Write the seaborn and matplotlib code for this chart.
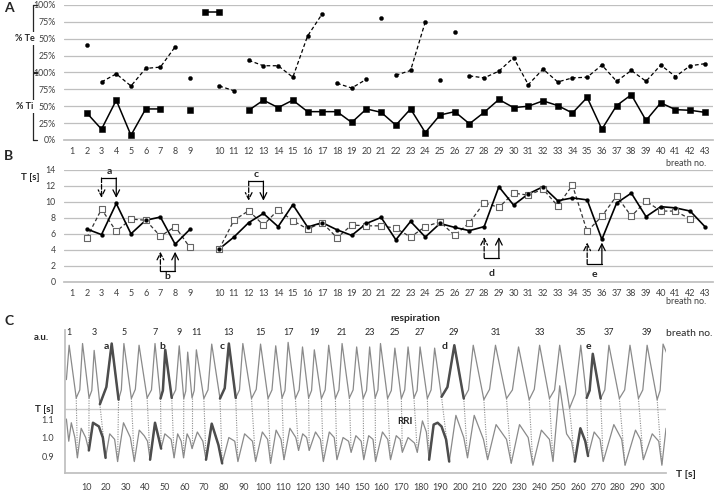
import matplotlib
matplotlib.use("Agg")
import matplotlib.pyplot as plt
import numpy as np
import pandas as pd
import seaborn as sns

# ---- categories (breath numbers, one blank slot between 9 and 10) ----
breath_no = list(range(1, 10)) + [None] + list(range(10, 44))

# ---- panel A: % Ti (squares, solid) and % Te (dots, dashed; plotted +100) ----
ti_pct = [np.nan, 40, 16, 59, 7, 46, 46, np.nan, 45, 190, 190, np.nan,
          44, 59, 48, 59, 42, 42, 42, 26, 46, 41, 22, 46, 11, 37, 42, 24,
          41, 60, 48, 50, 58, 51, 40, 63, 16, 51, 67, 29, 55, 45, 44, 41]
te_pct = [np.nan, 141, 86, 98, 80, 106, 108, 138, 92, np.nan, 80, 73,
          118, 110, 110, 93, 154, 187, 84, 77, 90, 180, 96, 103, 175, 89,
          160, 95, 92, 102, 122, 82, 105, 86, 92, 93, 111, 87, 103, 87,
          111, 94, 110, 113]
ti_breaks = [9]
te_breaks = [2, 8, 11, 17, 20, 21, 24, 25, 26]
pct_ticks = [0, 25, 50, 75, 100, 125, 150, 175, 200]
pct_labels = ["0%", "25%", "50%", "75%", "100%", "25%", "50%", "75%", "100%"]

# ---- panel B: breath duration T [s] ----
t_solid = [np.nan, 6.6, 5.9, 9.8, 6.0, 7.7, 8.1, 4.7, 6.55, np.nan, 4.1, 5.6,
           7.4, 8.55, 6.9, 9.65, 6.85, 7.4, 6.5, 5.8, 7.3, 8.05, 5.25, 7.55,
           5.6, 7.3, 6.8, 6.4, 6.9, 11.9, 9.6, 11.0, 11.9, 10.15, 10.5,
           10.25, 5.3, 9.85, 11.1, 8.15, 9.4, 9.25, 8.85, 6.9]
t_dashed = [np.nan, 5.5, 9.1, 6.3, 7.85, 7.7, 5.7, 6.9, 4.3, np.nan, 4.1, 7.7,
            8.9, 7.1, 9.0, 7.65, 6.6, 7.4, 5.5, 7.1, 7.0, 7.0, 6.7, 5.6, 6.9,
            7.5, 5.8, 7.4, 9.9, 9.3, 11.1, 10.85, 11.6, 9.5, 12.1, 6.3, 8.2,
            10.75, 8.2, 10.1, 8.85, 8.85, 7.85, np.nan]

# ---- panel C: respiration (a.u.) ----
resp_peak_t = [1.4, 8.2, 14.1, 23.0, 29.2, 36.9, 45.0, 50.2, 57.3, 61.6,
               66.0, 73.8, 82.5, 89.6, 98.6, 106.3, 112.6, 119.9, 125.9,
               133.2, 140.0, 147.4, 154.0, 159.5, 166.8, 173.5, 179.6, 187.0,
               197.0, 206.6, 217.9, 229.6, 240.3, 250.5, 261.2, 267.3, 275.5,
               286.2, 294.9, 303.0]
resp_peak_v = [0.95, 0.98, 0.86, 0.98, 0.98, 0.95, 0.98, 0.87, 0.94, 0.83,
               0.87, 0.97, 0.98, 0.98, 0.97, 0.94, 1.0, 0.92, 0.87, 0.95,
               0.98, 0.92, 0.92, 0.98, 0.9, 0.92, 0.92, 0.9, 0.95, 0.95,
               0.95, 0.92, 0.95, 0.95, 0.95, 0.8, 0.95, 0.95, 0.95, 0.97]
resp_trough_t = [5.0, 11.5, 17.0, 26.5, 33.0, 41.0, 47.8, 53.5, 59.6, 63.8,
                 69.8, 78.0, 86.0, 94.0, 102.4, 109.5, 116.3, 123.0, 129.5,
                 136.6, 143.7, 150.7, 156.8, 163.1, 170.1, 176.5, 183.3,
                 190.5, 201.8, 212.0, 223.5, 235.0, 245.3, 255.5, 264.2,
                 271.3, 280.8, 290.5, 300.0]
resp_trough_v = [0.03, 0.03, -0.08, 0.0, 0.02, 0.03, 0.02, 0.03, 0.02, 0.03,
                 0.02, 0.02, 0.03, 0.02, 0.02, 0.03, 0.02, 0.03, 0.02, 0.02,
                 0.03, 0.02, 0.03, 0.02, 0.02, 0.03, 0.02, 0.05, 0.02, 0.0,
                 0.02, 0.0, 0.02, -0.15, 0.03, 0.02, 0.02, 0.02, 0.0]
resp_shoulder_t = [6.8, 12.9, 20.3, 27.9, 35.0, 43.2, 49.0, 55.5, 60.6, 64.9,
                   71.9, 80.4, 87.9, 96.4, 104.4, 111.0, 118.2, 124.5, 131.4,
                   138.4, 145.6, 152.4, 158.2, 165.0, 171.8, 178.1, 185.2,
                   193.5, 204.2, 214.9, 226.5, 237.6, 247.9, 258.4, 265.7,
                   273.4, 283.5, 292.7, 301.5]
resp_shoulder_v = [0.17, 0.16, 0.22, 0.17, 0.18, 0.17, 0.16, 0.17, 0.15, 0.16,
                   0.17, 0.2, 0.17, 0.18, 0.17, 0.16, 0.17, 0.16, 0.17, 0.17,
                   0.17, 0.16, 0.17, 0.16, 0.17, 0.16, 0.17, 0.22, 0.17, 0.18,
                   0.17, 0.18, 0.17, 0.1, 0.16, 0.17, 0.17, 0.17, 0.16]
resp_start = (0.0, 0.35)
resp_end = (305.0, 0.8)

# ---- panel C: RRI [s] ----
rri_t = [0.0, 1.2, 2.5, 4.3, 5.6, 7.5, 9.8, 11.4, 13.5, 16.5, 18.5, 19.9,
         22.0, 24.5, 26.0, 29.0, 32.5, 34.5, 37.0, 39.5, 41.2, 42.5, 45.0,
         46.8, 48.1, 50.0, 53.2, 54.7, 56.5, 58.3, 59.5, 61.3, 62.7, 63.8,
         66.5, 69.3, 70.9, 73.8, 77.2, 79.1, 82.5, 85.5, 87.1, 90.5, 94.5,
         96.1, 99.5, 102.2, 103.7, 106.5, 109.0, 110.5, 113.5, 116.5, 117.9,
         120.0, 122.0, 123.3, 126.5, 129.0, 130.5, 133.5, 136.0, 137.4,
         140.5, 143.3, 144.6, 147.0, 149.7, 151.0, 153.5, 155.7, 157.0,
         160.5, 163.2, 164.6, 167.5, 169.5, 170.6, 173.5, 176.8, 178.2,
         180.8, 182.8, 184.2, 186.5, 188.5, 190.5, 192.8, 194.4, 197.8,
         201.8, 203.7, 207.1, 211.8, 213.9, 218.2, 223.5, 225.9, 230.1,
         234.5, 236.9, 241.2, 245.3, 247.1, 250.5, 254.0, 256.5, 258.2,
         261.0, 263.5, 264.9, 268.0, 271.0, 272.6, 278.0, 282.0, 283.7,
         289.0, 291.5, 293.0, 297.5, 300.8, 302.4, 304.5]
rri_v = [1.10, 0.98, 1.08, 1.0, 0.89, 1.05, 1.0, 0.93, 1.08, 1.06, 1.0, 0.89,
         1.02, 0.99, 0.87, 1.08, 1.0, 0.87, 1.04, 1.01, 0.98, 0.88, 1.08,
         1.0, 0.94, 1.02, 0.99, 0.89, 1.02, 0.98, 0.89, 1.02, 0.99, 0.94,
         1.03, 0.98, 0.88, 1.075, 0.96, 0.86, 1.0, 0.98, 0.87, 1.02, 0.98,
         0.87, 1.03, 0.99, 0.86, 1.04, 0.99, 0.88, 1.05, 1.0, 0.93, 1.02,
         1.0, 0.93, 1.03, 0.99, 0.87, 1.03, 1.0, 0.88, 1.0, 0.98, 0.92, 1.01,
         0.98, 0.88, 1.01, 0.99, 0.87, 1.03, 0.99, 0.88, 1.01, 0.99, 0.92,
         1.0, 0.97, 0.92, 1.09, 1.03, 0.88, 1.07, 1.08, 1.06, 0.99, 0.87,
         1.12, 1.0, 0.89, 1.12, 0.99, 0.88, 1.07, 0.99, 0.86, 1.07, 1.0,
         0.85, 1.04, 0.99, 0.87, 1.28, 1.02, 0.98, 0.87, 1.05, 0.98, 0.9,
         1.03, 0.99, 0.87, 1.07, 0.99, 0.85, 1.04, 0.99, 0.88, 1.02, 0.98,
         0.85, 1.05]
rri_trough_t = [5.6, 11.4, 19.9, 26.0, 34.5, 42.5, 48.1, 54.7, 59.5, 63.8,
                70.9, 79.1, 87.1, 96.1, 103.7, 110.5, 117.9, 123.3, 130.5,
                137.4, 144.6, 151.0, 157.0, 164.6, 170.6, 178.2, 184.2, 194.4,
                203.7, 213.9, 225.9, 236.9, 247.1, 258.2, 264.9, 272.6, 283.7,
                293.0, 302.4]

resp_bold = [(17.0, 26.5), (47.8, 53.5), (78.0, 86.0), (190.5, 201.8), (264.2, 271.3)]
rri_bold = [(11.4, 19.9), (42.5, 48.1), (70.9, 79.1), (184.2, 194.4), (258.2, 264.9)]
event_letters = ["a", "b", "c", "d", "e"]
event_letter_t = [20.2, 48.9, 79.3, 191.9, 265.2]

GRID = "#bfbfbf"
TXT = "#404040"
DARK = "#262626"
RESP_BASE, RESP_SCALE = 1.205, 0.31


def line_frame(values, breaks):
    rows, seg = [], 0
    for slot, (b, v) in enumerate(zip(breath_no, values)):
        if np.isnan(v):
            seg += 1
            continue
        rows.append({"slot": slot, "value": v, "seg": seg})
        if b in breaks:
            seg += 1
    return pd.DataFrame(rows)


def style_category_axis(ax):
    slots = np.arange(len(breath_no))
    ax.set_xlim(-0.55, len(breath_no) - 0.45)
    ax.set_xticks(slots)
    ax.set_xticklabels(["" if b is None else str(b) for b in breath_no])
    ax.set_xticks(np.arange(-0.5, len(breath_no), 1.0), minor=True)
    ax.tick_params(axis="x", which="major", length=0, pad=5, labelcolor=TXT, labelsize=6.5)
    ax.tick_params(axis="x", which="minor", length=3, color=GRID, width=0.8)
    ax.tick_params(axis="y", length=0, pad=6, labelcolor=TXT, labelsize=6.3)
    ax.yaxis.grid(True, color=GRID, lw=0.9)
    ax.xaxis.grid(False)
    ax.set_axisbelow(True)
    for side in ["left", "top", "right"]:
        ax.spines[side].set_visible(False)
    ax.spines["bottom"].set_color(GRID)
    ax.set_xlabel("")
    ax.set_ylabel("")


def draw_panel_a(ax):
    ti_df = line_frame(ti_pct, ti_breaks)
    te_df = line_frame(te_pct, te_breaks)
    sns.lineplot(data=ti_df, x="slot", y="value", units="seg", estimator=None,
                 color="black", lw=1.1, ax=ax, legend=False)
    sns.scatterplot(data=ti_df, x="slot", y="value", marker="s", s=22,
                    color="black", edgecolor="black", ax=ax, legend=False, zorder=3)
    sns.lineplot(data=te_df, x="slot", y="value", units="seg", estimator=None,
                 color="black", lw=0.9, linestyle=(0, (3, 2)), ax=ax, legend=False)
    sns.scatterplot(data=te_df, x="slot", y="value", marker="o", s=9,
                    color="black", edgecolor="black", ax=ax, legend=False, zorder=3)
    ax.set_ylim(0, 200)
    ax.set_yticks(pct_ticks)
    ax.set_yticklabels(pct_labels)
    style_category_axis(ax)

    trans = ax.get_yaxis_transform()
    bx = -0.048
    for lo, hi, label in [(101, 200, "% Te"), (0, 99, "% Ti")]:
        ax.plot([bx, bx], [lo, hi], color=DARK, lw=0.9, transform=trans, clip_on=False)
        ax.plot([bx, bx + 0.006], [lo, lo], color=DARK, lw=0.9, transform=trans, clip_on=False)
        ax.plot([bx, bx + 0.006], [hi, hi], color=DARK, lw=0.9, transform=trans, clip_on=False)
        ax.text(-0.060, (lo + hi) / 2, label, transform=trans, ha="center", va="center",
                fontsize=6.5, fontweight="bold", color=DARK,
                bbox=dict(facecolor="white", edgecolor="none", pad=1.2))


def bracket(ax, x1, x2, base, head, label, label_y):
    ax.plot([x1, x2], [base, base], color="black", lw=0.9)
    for x, ls in [(x1, "--"), (x2, "-")]:
        ax.annotate("", xy=(x, head), xytext=(x, base),
                    arrowprops=dict(arrowstyle="->", color="black", lw=0.9,
                                    linestyle=ls, shrinkA=0, shrinkB=0))
    ax.text((x1 + x2) / 2, label_y, label, ha="center", va="center",
            fontsize=7.5, fontweight="bold", color=DARK)


def draw_panel_b(ax):
    solid_df = line_frame(t_solid, [])
    dashed_df = line_frame(t_dashed, [])
    sns.lineplot(data=dashed_df, x="slot", y="value", units="seg", estimator=None,
                 color="#333333", lw=0.9, linestyle=(0, (3, 2)), ax=ax, legend=False)
    sns.scatterplot(data=dashed_df, x="slot", y="value", marker="s", s=14,
                    facecolor="white", edgecolor="#666666", linewidth=0.8,
                    ax=ax, legend=False, zorder=3)
    sns.lineplot(data=solid_df, x="slot", y="value", units="seg", estimator=None,
                 color="black", lw=1.2, ax=ax, legend=False)
    sns.scatterplot(data=solid_df, x="slot", y="value", marker="o", s=8,
                    color="black", edgecolor="black", ax=ax, legend=False, zorder=4)
    ax.set_ylim(0, 14)
    ax.set_yticks(range(0, 15, 2))
    style_category_axis(ax)
    ax.text(-0.052, 13.1, "T [s]", transform=ax.get_yaxis_transform(), ha="center",
            va="center", fontsize=7, fontweight="bold", color=DARK)

    bracket(ax, 2, 3, 13.0, 10.5, "a", 13.8)
    bracket(ax, 6, 7, 1.35, 3.75, "b", 0.6)
    bracket(ax, 12, 13, 12.6, 10.15, "c", 13.4)
    bracket(ax, 28, 29, 3.0, 5.6, "d", 1.05)
    bracket(ax, 35, 36, 2.2, 4.9, "e", 0.9)


def draw_panel_c(ax):
    t = [resp_start[0]]
    v = [resp_start[1]]
    for i, (pt, pv) in enumerate(zip(resp_peak_t, resp_peak_v)):
        t.append(pt)
        v.append(pv)
        if i < len(resp_trough_t):
            t += [resp_trough_t[i], resp_shoulder_t[i]]
            v += [resp_trough_v[i], resp_shoulder_v[i]]
    t.append(resp_end[0])
    v.append(resp_end[1])
    resp = pd.DataFrame({"t": t, "y": RESP_BASE + RESP_SCALE * np.array(v)})
    rri = pd.DataFrame({"t": rri_t, "y": rri_v})

    ax.axhline(1.155, color="#cccccc", lw=1.0, zorder=0)

    trough_y = RESP_BASE + RESP_SCALE * np.array(resp_trough_v)
    rri_lookup = dict(zip(rri_t, rri_v))
    links = []
    for k, (t0, y0, t1) in enumerate(zip(resp_trough_t, trough_y, rri_trough_t)):
        links.append({"t": t0, "y": y0, "pair": k})
        links.append({"t": t1, "y": rri_lookup[t1], "pair": k})
    sns.lineplot(data=pd.DataFrame(links), x="t", y="y", units="pair", estimator=None,
                 sort=False, color="#8c8c8c", lw=0.8, linestyle=(0, (1, 1.2)),
                 ax=ax, legend=False)

    for df in (resp, rri):
        sns.lineplot(data=df, x="t", y="y", sort=False, estimator=None,
                     color="#8a8a8a", lw=0.9, ax=ax, legend=False)
    for df, windows in ((resp, resp_bold), (rri, rri_bold)):
        for lo, hi in windows:
            part = df[(df["t"] >= lo) & (df["t"] <= hi)]
            sns.lineplot(data=part, x="t", y="y", sort=False, estimator=None,
                         color="#4d4d4d", lw=1.8, ax=ax, legend=False)

    ax.set_xlim(-0.7, 304.5)
    ax.set_ylim(0.808, 1.582)
    ax.set_xticks(range(10, 301, 10))
    ax.set_yticks([0.9, 1.0, 1.1])
    ax.set_yticklabels(["0.9", "1.0", "1.1"])
    ax.tick_params(axis="x", length=3, color=GRID, pad=4, labelcolor=TXT, labelsize=6.5)
    ax.tick_params(axis="y", length=0, pad=8, labelcolor=TXT, labelsize=6.5)
    ax.grid(False)
    for side in ["top", "right"]:
        ax.spines[side].set_visible(False)
    for side in ["left", "bottom"]:
        ax.spines[side].set_color(GRID)
    ax.set_xlabel("")
    ax.set_ylabel("")

    for i, pt in enumerate(resp_peak_t):
        if i % 2 == 0 and pt < 300:
            ax.text(pt, 1.571, str(i + 1), ha="center", va="center", fontsize=6.5, color=DARK)
    for letter, lt in zip(event_letters, event_letter_t):
        ax.text(lt, 1.493, letter, ha="center", va="center", fontsize=7.5,
                fontweight="bold", color=DARK)
    ax.text(177, 1.645, "respiration", ha="center", va="center", fontsize=7.5,
            fontweight="bold", color=DARK)
    ax.text(172, 1.085, "RRI", ha="center", va="center", fontsize=7,
            fontweight="bold", color=DARK, zorder=5)
    ax.text(-0.04, 1.54, "a.u.", transform=ax.get_yaxis_transform(), ha="center",
            va="center", fontsize=7, fontweight="bold", color=DARK)
    ax.text(-0.035, 1.15, "T [s]", transform=ax.get_yaxis_transform(), ha="center",
            va="center", fontsize=7, fontweight="bold", color=DARK)


def main():
    sns.set_theme(style="white")
    plt.rcParams["font.family"] = ["Lato", "DejaVu Sans"]

    fig = plt.figure(figsize=(7.16, 4.94), dpi=100)
    ax_a = fig.add_axes([0.0894, 0.7166, 0.9064, 0.2733])
    ax_b = fig.add_axes([0.0894, 0.4298, 0.9064, 0.2261])
    ax_c = fig.add_axes([0.0908, 0.0425, 0.8394, 0.2895])

    draw_panel_a(ax_a)
    draw_panel_b(ax_b)
    draw_panel_c(ax_c)

    for letter, y in [("A", 8), ("B", 156), ("C", 321)]:
        fig.text(0.012, 1 - y / 494, letter, ha="center", va="center",
                 fontsize=10, fontweight="bold", color=DARK)
    for y in [163, 302]:
        fig.text(0.986, 1 - y / 494, "breath no.", ha="right", va="center",
                 fontsize=6.5, color=TXT)
    fig.text(0.962, 1 - 333 / 494, "breath no.", ha="center", va="center",
             fontsize=7.5, color=DARK)
    fig.text(0.958, 1 - 474 / 494, "T [s]", ha="center", va="center",
             fontsize=7.5, fontweight="bold", color=DARK)

    fig.savefig("out.png", dpi=100)
    plt.close(fig)


if __name__ == "__main__":
    main()
